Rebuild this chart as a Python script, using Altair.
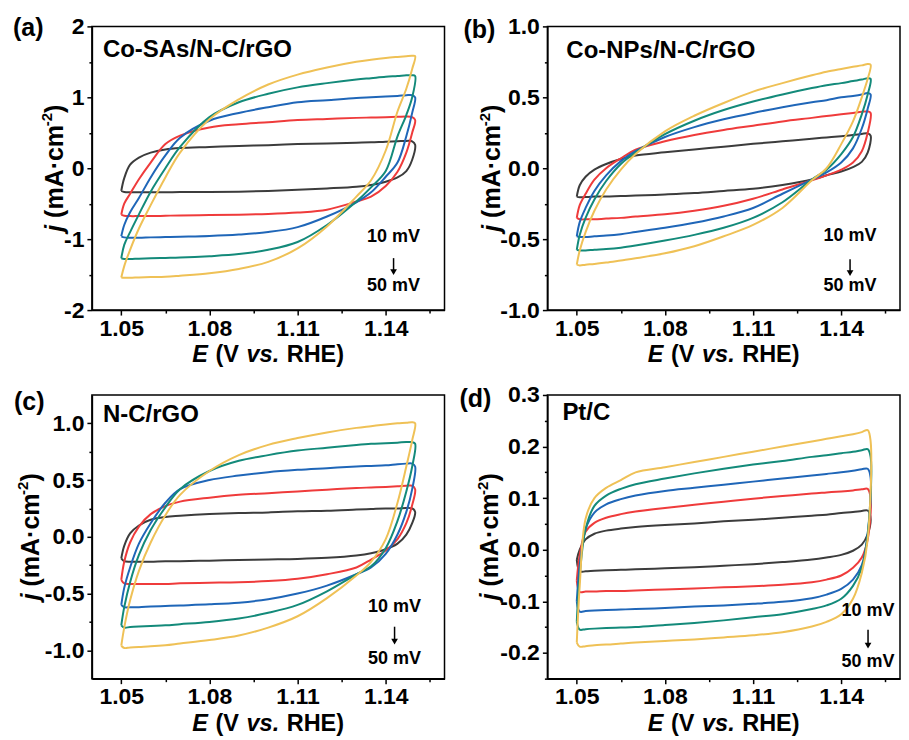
import altair as alt
import pandas as pd

# ---------------- data ----------------
E_GRID = [1.050, 1.051, 1.053, 1.056, 1.060, 1.065, 1.070, 1.080, 1.090, 1.100,
          1.110, 1.120, 1.130, 1.135, 1.140, 1.144, 1.147, 1.149, 1.150]
RATES = ["10 mV", "20 mV", "30 mV", "40 mV", "50 mV"]
COLORS = ["#3c3c3c", "#ef3b3b", "#1f66b8", "#138a7a", "#efc156"]

# (a) Co-SAs/N-C/rGO : forward (anodic) and reverse (cathodic) branches on E_GRID
A_FWD_10 = [-0.32, -0.14, 0.05, 0.15, 0.22, 0.265, 0.285, 0.30, 0.315, 0.325, 0.34, 0.35, 0.36, 0.365, 0.375, 0.38, 0.385, 0.38, 0.33]
A_REV_10 = [-0.32, -0.335, -0.34, -0.34, -0.34, -0.34, -0.335, -0.335, -0.33, -0.32, -0.305, -0.285, -0.26, -0.235, -0.19, -0.13, -0.04, 0.12, 0.33]
A_FWD_20 = [-0.655, -0.50, -0.36, -0.155, 0.08, 0.34, 0.46, 0.575, 0.62, 0.65, 0.68, 0.695, 0.71, 0.715, 0.72, 0.725, 0.73, 0.72, 0.68]
A_REV_20 = [-0.655, -0.67, -0.675, -0.675, -0.675, -0.67, -0.665, -0.66, -0.655, -0.645, -0.625, -0.585, -0.47, -0.40, -0.25, -0.05, 0.22, 0.50, 0.68]
A_FWD_30 = [-0.96, -0.80, -0.62, -0.42, -0.13, 0.18, 0.43, 0.67, 0.78, 0.86, 0.93, 0.96, 0.99, 1.0, 1.01, 1.02, 1.03, 1.03, 1.0]
A_REV_30 = [-0.96, -0.975, -0.98, -0.98, -0.975, -0.97, -0.965, -0.955, -0.935, -0.90, -0.83, -0.68, -0.48, -0.34, -0.12, 0.08, 0.45, 0.78, 1.0]
A_FWD_40 = [-1.27, -1.08, -0.90, -0.65, -0.33, 0.0, 0.30, 0.72, 0.93, 1.05, 1.14, 1.20, 1.25, 1.27, 1.29, 1.30, 1.31, 1.31, 1.30]
A_REV_40 = [-1.27, -1.28, -1.28, -1.275, -1.27, -1.265, -1.26, -1.24, -1.21, -1.15, -1.04, -0.80, -0.47, -0.27, -0.04, 0.45, 0.75, 1.0, 1.30]
A_FWD_50 = [-1.54, -1.38, -1.15, -0.85, -0.52, -0.13, 0.22, 0.69, 0.97, 1.18, 1.32, 1.42, 1.50, 1.53, 1.555, 1.57, 1.58, 1.585, 1.58]
A_REV_50 = [-1.54, -1.545, -1.545, -1.54, -1.535, -1.53, -1.515, -1.48, -1.42, -1.32, -1.13, -0.82, -0.40, -0.17, 0.25, 0.80, 1.12, 1.40, 1.58]

# (b) Co-NPs/N-C/rGO
B_FWD_10 = [-0.20, -0.12, -0.06, -0.01, 0.03, 0.065, 0.09, 0.112, 0.132, 0.152, 0.172, 0.19, 0.208, 0.217, 0.226, 0.234, 0.242, 0.246, 0.23]
B_REV_10 = [-0.20, -0.205, -0.203, -0.20, -0.20, -0.196, -0.193, -0.185, -0.175, -0.16, -0.145, -0.118, -0.08, -0.05, -0.023, 0.008, 0.045, 0.11, 0.23]
B_FWD_20 = [-0.35, -0.26, -0.18, -0.08, 0.0, 0.07, 0.13, 0.19, 0.235, 0.27, 0.30, 0.33, 0.355, 0.368, 0.38, 0.39, 0.398, 0.40, 0.39]
B_REV_20 = [-0.35, -0.36, -0.36, -0.36, -0.355, -0.35, -0.34, -0.325, -0.30, -0.265, -0.215, -0.15, -0.085, -0.05, -0.01, 0.04, 0.12, 0.25, 0.39]
B_FWD_30 = [-0.48, -0.38, -0.28, -0.16, -0.05, 0.05, 0.12, 0.22, 0.29, 0.345, 0.39, 0.43, 0.465, 0.48, 0.50, 0.51, 0.52, 0.53, 0.52]
B_REV_30 = [-0.48, -0.485, -0.485, -0.48, -0.475, -0.465, -0.45, -0.42, -0.385, -0.34, -0.28, -0.18, -0.08, -0.03, 0.04, 0.14, 0.28, 0.42, 0.52]
B_FWD_40 = [-0.575, -0.47, -0.35, -0.22, -0.09, 0.03, 0.11, 0.24, 0.335, 0.41, 0.47, 0.52, 0.565, 0.585, 0.60, 0.615, 0.625, 0.635, 0.63]
B_REV_40 = [-0.575, -0.58, -0.58, -0.575, -0.57, -0.56, -0.545, -0.51, -0.47, -0.42, -0.35, -0.24, -0.08, -0.01, 0.10, 0.22, 0.38, 0.52, 0.63]
B_FWD_50 = [-0.68, -0.58, -0.45, -0.30, -0.15, -0.01, 0.10, 0.26, 0.37, 0.46, 0.54, 0.60, 0.655, 0.68, 0.70, 0.715, 0.725, 0.735, 0.73]
B_REV_50 = [-0.68, -0.685, -0.68, -0.675, -0.665, -0.65, -0.635, -0.60, -0.55, -0.48, -0.40, -0.28, -0.085, 0.0, 0.17, 0.33, 0.50, 0.63, 0.73]

# (c) N-C/rGO
C_FWD_10 = [-0.19, -0.08, 0.03, 0.10, 0.15, 0.175, 0.185, 0.20, 0.21, 0.215, 0.225, 0.23, 0.24, 0.245, 0.25, 0.25, 0.255, 0.25, 0.22]
C_REV_10 = [-0.19, -0.215, -0.22, -0.22, -0.22, -0.215, -0.215, -0.21, -0.205, -0.20, -0.195, -0.185, -0.165, -0.145, -0.11, -0.06, 0.02, 0.12, 0.22]
C_FWD_20 = [-0.38, -0.22, -0.05, 0.09, 0.20, 0.27, 0.31, 0.345, 0.37, 0.385, 0.40, 0.415, 0.43, 0.435, 0.44, 0.445, 0.45, 0.45, 0.42]
C_REV_20 = [-0.38, -0.41, -0.415, -0.415, -0.415, -0.415, -0.41, -0.405, -0.40, -0.39, -0.37, -0.33, -0.27, -0.20, -0.12, -0.02, 0.12, 0.28, 0.42]
C_FWD_30 = [-0.60, -0.45, -0.27, -0.06, 0.12, 0.30, 0.42, 0.50, 0.54, 0.57, 0.59, 0.605, 0.62, 0.625, 0.63, 0.64, 0.645, 0.645, 0.62]
C_REV_30 = [-0.60, -0.62, -0.62, -0.62, -0.615, -0.61, -0.605, -0.595, -0.58, -0.55, -0.50, -0.43, -0.33, -0.27, -0.15, 0.02, 0.22, 0.42, 0.62]
C_FWD_40 = [-0.78, -0.62, -0.40, -0.16, 0.06, 0.26, 0.42, 0.58, 0.67, 0.72, 0.76, 0.785, 0.81, 0.82, 0.825, 0.83, 0.835, 0.835, 0.82]
C_REV_40 = [-0.78, -0.80, -0.795, -0.79, -0.785, -0.78, -0.77, -0.75, -0.72, -0.67, -0.60, -0.48, -0.33, -0.26, -0.10, 0.14, 0.40, 0.62, 0.82]
C_FWD_50 = [-0.96, -0.80, -0.56, -0.30, -0.05, 0.19, 0.37, 0.58, 0.72, 0.81, 0.87, 0.92, 0.96, 0.975, 0.99, 1.0, 1.005, 1.01, 1.0]
C_REV_50 = [-0.96, -0.98, -0.975, -0.97, -0.965, -0.955, -0.94, -0.91, -0.87, -0.80, -0.70, -0.54, -0.34, -0.22, -0.02, 0.30, 0.62, 0.85, 1.0]

# (d) Pt/C
D_FWD_10 = [-0.02, 0.0, 0.02, 0.031, 0.037, 0.041, 0.044, 0.048, 0.051, 0.055, 0.058, 0.062, 0.066, 0.068, 0.071, 0.073, 0.075, 0.076, 0.06]
D_REV_10 = [-0.02, -0.042, -0.042, -0.041, -0.04, -0.039, -0.038, -0.036, -0.034, -0.031, -0.028, -0.024, -0.019, -0.015, -0.01, -0.002, 0.01, 0.03, 0.06]
D_FWD_20 = [-0.06, -0.01, 0.035, 0.052, 0.062, 0.069, 0.074, 0.081, 0.087, 0.093, 0.099, 0.104, 0.109, 0.111, 0.113, 0.115, 0.117, 0.118, 0.10]
D_REV_20 = [-0.06, -0.082, -0.081, -0.081, -0.08, -0.08, -0.079, -0.077, -0.075, -0.073, -0.071, -0.068, -0.063, -0.058, -0.05, -0.035, -0.015, 0.02, 0.10]
D_FWD_30 = [-0.10, -0.03, 0.04, 0.072, 0.088, 0.098, 0.105, 0.114, 0.12, 0.126, 0.132, 0.138, 0.144, 0.147, 0.15, 0.153, 0.156, 0.157, 0.14]
D_REV_30 = [-0.10, -0.12, -0.119, -0.118, -0.117, -0.116, -0.115, -0.113, -0.11, -0.108, -0.105, -0.101, -0.094, -0.087, -0.076, -0.058, -0.03, 0.03, 0.14]
D_FWD_40 = [-0.14, -0.05, 0.04, 0.085, 0.105, 0.118, 0.127, 0.138, 0.148, 0.157, 0.165, 0.172, 0.18, 0.183, 0.187, 0.19, 0.193, 0.195, 0.18]
D_REV_40 = [-0.14, -0.155, -0.154, -0.153, -0.152, -0.151, -0.15, -0.146, -0.142, -0.137, -0.131, -0.125, -0.115, -0.108, -0.095, -0.07, -0.035, 0.03, 0.18]
D_FWD_50 = [-0.18, -0.07, 0.06, 0.10, 0.12, 0.135, 0.15, 0.16, 0.17, 0.18, 0.19, 0.20, 0.21, 0.215, 0.22, 0.224, 0.228, 0.232, 0.21]
D_REV_50 = [-0.18, -0.188, -0.187, -0.185, -0.184, -0.182, -0.18, -0.177, -0.174, -0.17, -0.166, -0.16, -0.149, -0.14, -0.125, -0.095, -0.045, 0.02, 0.21]

X_TICKS = [1.05, 1.065, 1.08, 1.095, 1.11, 1.125, 1.14, 1.155]
A_TICKS = [-2, -1.5, -1, -0.5, 0, 0.5, 1, 1.5, 2]
B_TICKS = [-1.0, -0.75, -0.5, -0.25, 0.0, 0.25, 0.5, 0.75, 1.0]
C_TICKS = [-1.0, -0.75, -0.5, -0.25, 0.0, 0.25, 0.5, 0.75, 1.0]
D_TICKS = [-0.25, -0.2, -0.15, -0.1, -0.05, 0.0, 0.05, 0.1, 0.15, 0.2, 0.25, 0.3]

# ---------------- layout / style ----------------
W, H = 353, 284
FONT = "Liberation Sans"
ONE = pd.DataFrame({"_": [0]})


def loop_table(fwds, revs):
    rows = []
    for rate, fwd, rev in zip(RATES, fwds, revs):
        k = 0
        for e, j in zip(E_GRID, fwd):
            rows.append({"E": e, "j": j, "rate": rate, "k": k})
            k += 1
        for e, j in zip(E_GRID[::-1][1:], rev[::-1][1:]):
            rows.append({"E": e, "j": j, "rate": rate, "k": k})
            k += 1
    return pd.DataFrame(rows)


def txt(x, y, s, size, italic=False, align="left", angle=0):
    kw = dict(font=FONT, fontSize=size, fontWeight="bold", align=align,
              baseline="alphabetic", color="black")
    if italic:
        kw["fontStyle"] = "italic"
    if angle:
        kw["angle"] = angle
    return alt.Chart(ONE).mark_text(**kw).encode(
        x=alt.value(x), y=alt.value(y), text=alt.value(s))


def x_title_layers():
    F = 23.5
    total = 6.335 * F + 3
    x0 = W / 2 - total / 2
    y = H + 52
    return [
        txt(x0, y, "E", F, italic=True),
        txt(x0 + 0.945 * F + 1, y, "(V", F),
        txt(x0 + 2.223 * F + 2, y, "vs.", F, italic=True),
        txt(x0 + 3.891 * F + 3, y, "RHE)", F),
    ]


def y_title_layers(xb):
    F = 25
    total = 5.089 * F
    y0 = H / 2 + total / 2
    return [
        txt(xb, y0, "j", F, italic=True, angle=270),
        txt(xb, y0 - 0.556 * F, "(mA\u00b7cm", F, angle=270),
        txt(xb - 0.42 * F, y0 - 4.223 * F, "-2", 0.6 * F, angle=270),
        txt(xb, y0 - 4.756 * F, ")", F, angle=270),
    ]


def panel(fwds, revs, ydom, yticks, ymod, yfmt, letter, lab_xy, name, name_xy,
          ytitle_x, ann):
    df = loop_table(fwds, revs)
    maj_x = "round(datum.value*1000) % 30 == 0"
    maj_y = f"round(datum.value*100) % {ymod} == 0"
    x_axis = alt.Axis(
        values=X_TICKS, title=None, grid=False, labelOverlap=False, labelFlush=False,
        labelExpr=f"{maj_x} ? format(datum.value, '.2f') : ''",
        tickSize={"condition": {"test": maj_x, "value": 5}, "value": 3},
        labelPadding=2,
    )
    y_axis = alt.Axis(
        values=yticks, title=None, grid=False, labelOverlap=False, labelFlush=False,
        labelExpr=f"{maj_y} ? (datum.value < 0 ? '-' : '') + format(abs(datum.value), '{yfmt}') : ''",
        tickSize={"condition": {"test": maj_y, "value": 5}, "value": 3},
        labelPadding=3,
    )
    lines = alt.Chart(df).mark_line(strokeWidth=2, interpolate="catmull-rom").encode(
        x=alt.X("E:Q", scale=alt.Scale(domain=[1.04, 1.16], nice=False, zero=False), axis=x_axis),
        y=alt.Y("j:Q", scale=alt.Scale(domain=ydom, nice=False, zero=False), axis=y_axis),
        color=alt.Color("rate:N", scale=alt.Scale(domain=RATES, range=COLORS), legend=None),
        order=alt.Order("k:Q"),
    )
    ax, y10, y50, s1, s2 = ann
    layers = [lines]
    layers.append(txt(lab_xy[0], lab_xy[1], letter, 25))
    layers.append(txt(name_xy[0], name_xy[1], name, 24))
    layers.append(txt(ax, y10, "10 mV", 18, align="center"))
    layers.append(txt(ax, y50, "50 mV", 18, align="center"))
    layers.append(alt.Chart(ONE).mark_rule(color="black", strokeWidth=1.5).encode(
        x=alt.value(ax), y=alt.value(s1), y2=alt.value(s2)))
    layers.append(alt.Chart(ONE).mark_point(shape="triangle-down", filled=True, size=45,
                                            color="black", opacity=1).encode(
        x=alt.value(ax), y=alt.value(s2 + 1)))
    layers += x_title_layers()
    layers += y_title_layers(ytitle_x)
    return alt.layer(*layers).properties(width=W, height=H)


pa = panel([A_FWD_10, A_FWD_20, A_FWD_30, A_FWD_40, A_FWD_50],
           [A_REV_10, A_REV_20, A_REV_30, A_REV_40, A_REV_50],
           [-2, 2], A_TICKS, 100, "d", "(a)", (-79, 10), "Co-SAs/N-C/rGO", (11, 31),
           -29, (302, 216, 265, 232, 245))
pb = panel([B_FWD_10, B_FWD_20, B_FWD_30, B_FWD_40, B_FWD_50],
           [B_REV_10, B_REV_20, B_REV_30, B_REV_40, B_REV_50],
           [-1, 1], B_TICKS, 50, ".1f", "(b)", (-84, 12), "Co-NPs/N-C/rGO", (19, 32),
           -47, (303, 215, 265, 233, 246))
pc = panel([C_FWD_10, C_FWD_20, C_FWD_30, C_FWD_40, C_FWD_50],
           [C_REV_10, C_REV_20, C_REV_30, C_REV_40, C_REV_50],
           [-1.25, 1.25], C_TICKS, 50, ".1f", "(c)", (-78, 15), "N-C/rGO", (11, 27),
           -53, (303, 217, 269, 232, 246))
pd_ = panel([D_FWD_10, D_FWD_20, D_FWD_30, D_FWD_40, D_FWD_50],
            [D_REV_10, D_REV_20, D_REV_30, D_REV_40, D_REV_50],
            [-0.25, 0.3], D_TICKS, 10, ".1f", "(d)", (-88, 12), "Pt/C", (15, 25),
            -49, (321, 221, 272, 235, 250))

chart = alt.concat(pa, pb, pc, pd_, columns=2, spacing={"row": 15, "column": 13}).properties(
    padding={"left": 4, "top": 6, "right": 0, "bottom": 0}
).configure_view(
    stroke="black", strokeWidth=1.5
).configure_axis(
    labelFont=FONT, labelFontSize=23, labelFontWeight="bold", labelColor="black",
    domainColor="black", domainWidth=1.5, tickColor="black", tickWidth=1.5,
)

chart.save("out.html", embed_options={"renderer": "svg", "actions": False})
